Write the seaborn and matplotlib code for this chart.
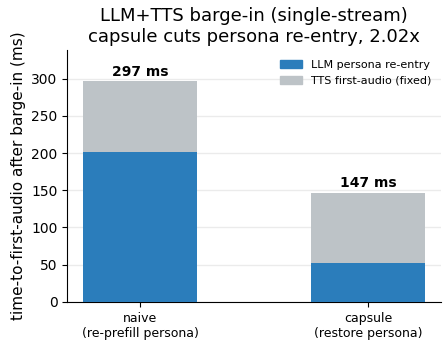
import matplotlib
matplotlib.use("Agg")
import matplotlib.pyplot as plt
import pandas as pd
import seaborn as sns
from matplotlib.patches import Patch

modes = ["naive\n(re-prefill persona)", "capsule\n(restore persona)"]
llm_ms = [202, 52]
tts_ms = [95, 95]
totals = [a + b for a, b in zip(llm_ms, tts_ms)]

blue = "#2b7dbb"
grey = "#bdc3c7"

sns.set_style("white")
plt.rcParams["font.family"] = ["DejaVu Sans"]
plt.rcParams["text.color"] = "black"
plt.rcParams["axes.labelcolor"] = "black"
plt.rcParams["xtick.color"] = "black"
plt.rcParams["ytick.color"] = "black"
plt.rcParams["axes.edgecolor"] = "black"

df = pd.DataFrame({"mode": modes, "llm": llm_ms, "total": totals})

fig, ax = plt.subplots(figsize=(4.48, 3.45), dpi=100)

sns.barplot(data=df, x="mode", y="total", color=grey, width=0.5,
            saturation=1, edgecolor="none", linewidth=0, ax=ax, zorder=2)
sns.barplot(data=df, x="mode", y="llm", color=blue, width=0.5,
            saturation=1, edgecolor="none", linewidth=0, ax=ax, zorder=3)

for i, t in enumerate(totals):
    ax.text(i, t + 3, f"{t} ms", ha="center", va="bottom",
            fontsize=10, fontweight="bold")

ax.set_xlim(-0.32, 1.32)
ax.set_ylim(0, max(totals) * 1.14)
ax.yaxis.grid(True, color="#ebebeb", lw=1, zorder=0)
ax.set_axisbelow(True)
sns.despine(ax=ax)
ax.tick_params(axis="y", labelsize=10, length=3.5, left=True)
ax.tick_params(axis="x", labelsize=9, length=3.5, bottom=True)
ax.set_xlabel("")
ax.set_ylabel("time-to-first-audio after barge-in (ms)", fontsize=11)
ax.set_title("LLM+TTS barge-in (single-stream)\ncapsule cuts persona re-entry, 2.02x",
             fontsize=13)

handles = [Patch(color=blue, label="LLM persona re-entry"),
           Patch(color=grey, label="TTS first-audio (fixed)")]
ax.legend(handles=handles, frameon=False, fontsize=8, loc="upper right")

fig.subplots_adjust(left=0.15, right=0.985, bottom=0.125, top=0.855)
fig.savefig("out.png", dpi=100)
